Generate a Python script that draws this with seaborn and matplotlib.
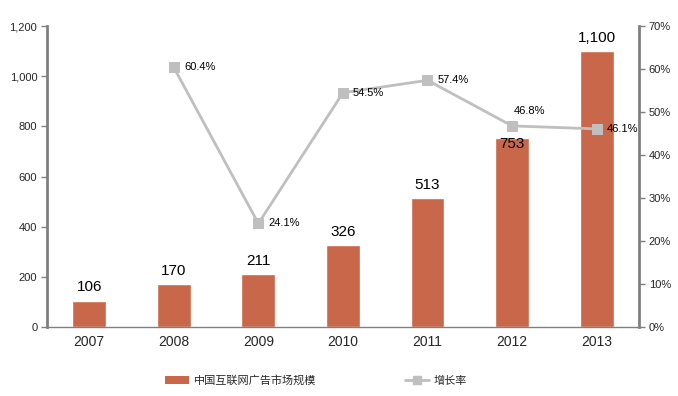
import numpy as np
import pandas as pd
import matplotlib
matplotlib.use("Agg")
import matplotlib.pyplot as plt
import seaborn as sns
from matplotlib.ticker import FuncFormatter, PercentFormatter
from matplotlib.patches import Patch
from matplotlib.lines import Line2D

# data
years = ["2007", "2008", "2009", "2010", "2011", "2012", "2013"]
market_size = [106, 170, 211, 326, 513, 753, 1100]
growth_years = ["2008", "2009", "2010", "2011", "2012", "2013"]
growth_rate = [60.4, 24.1, 54.5, 57.4, 46.8, 46.1]

bar_name = "中国互联网广告市场规模"
line_name = "增长率"

sns.set_style("white")
plt.rcParams["font.family"] = ["Noto Sans CJK SC", "DejaVu Sans"]

bar_color = "#C8674A"
line_color = "#BFBFBF"
axis_color = "#808080"

fig = plt.figure(figsize=(6.78, 3.96), dpi=100)
ax = fig.add_axes([0.0693, 0.174, 0.873, 0.760])

df = pd.DataFrame({"year": years, "size": market_size})
sns.barplot(data=df, x="year", y="size", color=bar_color, width=0.4,
            saturation=1, ax=ax, zorder=2)
ax.set_xlim(-0.5, len(years) - 0.5)
ax.set_ylim(0, 1200)
ax.set_yticks(range(0, 1201, 200))
ax.yaxis.set_major_formatter(FuncFormatter(lambda v, p: f"{int(v):,}"))
ax.set_xlabel("")
ax.set_ylabel("")

ax2 = ax.twinx()
pos = [years.index(y) for y in growth_years]
gdf = pd.DataFrame({"pos": pos, "rate": growth_rate})
sns.lineplot(data=gdf, x="pos", y="rate", color=line_color, linewidth=2,
             marker="s", markersize=7, markeredgecolor=line_color, ax=ax2)
ax2.set_ylim(0, 70)
ax2.set_yticks(range(0, 71, 10))
ax2.yaxis.set_major_formatter(PercentFormatter(decimals=0))
ax2.set_xlim(-0.5, len(years) - 0.5)
ax2.set_ylabel("")
ax2.set_xlabel("")

# bar value labels (2012 sits just inside the bar top, below the line)
for i, v in enumerate(market_size):
    if years[i] == "2012":
        ax2.text(i, v * 70 / 1200 - 1.3, f"{v:,}", ha="center", va="center",
                 fontsize=11, family="Liberation Sans", color="#000000")
    else:
        ax.text(i, v + 25, f"{v:,}", ha="center", va="bottom", fontsize=11,
                family="Liberation Sans", color="#000000")

for p, r, y in zip(pos, growth_rate, growth_years):
    if y == "2012":
        ax2.text(p + 0.02, r + 3.4, f"{r:.1f}%", ha="left", va="center",
                 fontsize=8, family="Liberation Sans", color="#000000")
    else:
        ax2.text(p + 0.12, r, f"{r:.1f}%", ha="left", va="center",
                 fontsize=8, family="Liberation Sans", color="#000000")

for a in (ax, ax2):
    for s in a.spines.values():
        s.set_visible(False)
    a.tick_params(axis="y", length=4, width=1, color=axis_color,
                  labelsize=8, pad=3)
    for lab in a.get_yticklabels():
        lab.set_family("Liberation Sans")

ax.spines["left"].set_visible(True)
ax.spines["left"].set_color(axis_color)
ax.spines["left"].set_linewidth(2)
ax.spines["bottom"].set_visible(True)
ax.spines["bottom"].set_color(axis_color)
ax.spines["bottom"].set_linewidth(1)
ax2.spines["right"].set_visible(True)
ax2.spines["right"].set_color(axis_color)
ax2.spines["right"].set_linewidth(2)

ax.tick_params(axis="x", length=0, labelsize=10, pad=6)
for lab in ax.get_xticklabels():
    lab.set_family("Liberation Sans")

handles = [Patch(facecolor=bar_color, edgecolor="none"),
           Line2D([], [], color=line_color, linewidth=2, marker="s",
                  markersize=6)]
fig.legend(handles, [bar_name, line_name], loc="center",
           bbox_to_anchor=(0.466, 0.04), ncol=2, frameon=False, fontsize=8,
           columnspacing=8, handlelength=2.2, handletextpad=0.4)

fig.savefig("out.png", dpi=100)
